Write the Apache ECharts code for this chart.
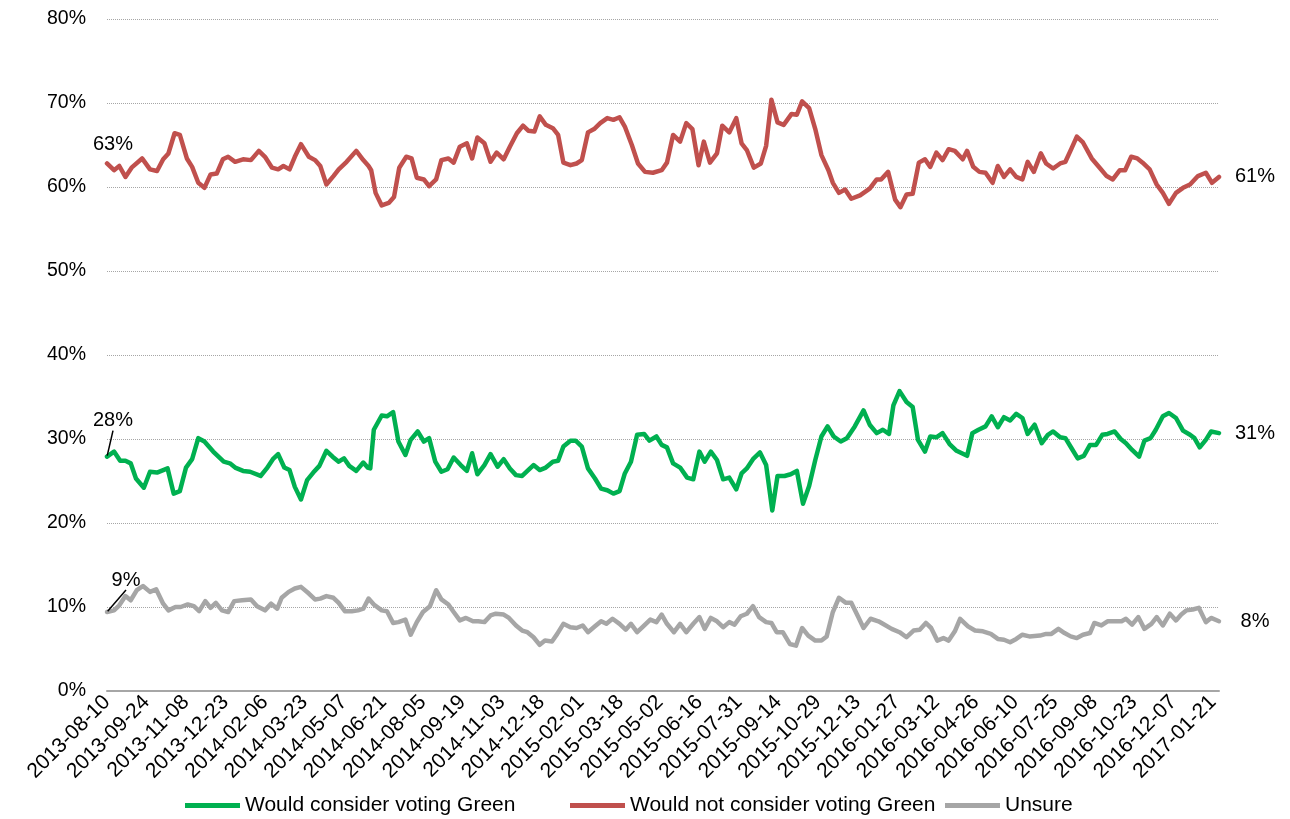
<!DOCTYPE html>
<html>
<head>
<meta charset="utf-8">
<script src="https://cdn.jsdelivr.net/npm/echarts@6/dist/echarts.min.js"></script>
<style>
html,body{margin:0;padding:0;background:#fff;}
#chart{width:1290px;height:819px;}
</style>
</head>
<body>
<div id="chart"></div>
<script>
// Start date of the x axis; positions below are days after this date
const START_DATE = '2013-08-10';
const END_DAY = 1267;
const LABEL_EVERY_DAYS = 45;
const yTicks = [0, 10, 20, 30, 40, 50, 60, 70, 80];

const seriesNames = ['Would consider voting Green', 'Would not consider voting Green', 'Unsure'];

// Would consider voting Green
const greenDay = [0,8,15,21,27,33,42,49,57,69,76,83,90,97,104,111,121,133,140,146,155,163,175,182,189,195,202,208,214,221,228,235,242,250,257,264,270,276,284,292,297,300,304,313,319,326,332,340,346,354,361,367,374,381,388,395,403,410,416,422,430,437,445,452,459,466,473,479,486,493,500,508,514,520,528,534,541,548,556,563,570,577,584,590,597,604,612,618,626,632,638,645,653,661,668,675,681,688,695,702,709,717,723,729,736,744,751,758,764,772,779,786,793,800,807,814,821,828,836,843,852,862,869,877,884,891,896,903,911,918,924,932,938,945,952,960,968,980,986,993,1001,1008,1015,1022,1029,1036,1043,1049,1057,1065,1072,1078,1086,1092,1099,1106,1113,1120,1127,1134,1140,1148,1155,1161,1168,1176,1182,1189,1195,1203,1210,1218,1226,1234,1239,1245,1252,1258,1267];
const greenVal = [27.9,28.5,27.4,27.4,27.1,25.3,24.2,26.1,26.0,26.5,23.5,23.8,26.6,27.6,30.1,29.7,28.5,27.3,27.1,26.6,26.2,26.1,25.6,26.5,27.6,28.2,26.6,26.3,24.3,22.8,25.1,26.0,26.8,28.6,27.9,27.3,27.7,26.8,26.2,27.2,26.6,26.5,31.1,32.8,32.7,33.2,29.7,28.1,29.9,30.9,29.7,30.1,27.3,26.1,26.4,27.8,26.9,26.2,28.3,25.8,26.9,28.2,26.7,27.6,26.5,25.7,25.6,26.2,26.9,26.3,26.6,27.3,27.4,29.1,29.8,29.8,29.1,26.5,25.3,24.1,23.9,23.5,23.8,25.9,27.3,30.5,30.6,29.8,30.3,29.3,29.0,27.1,26.6,25.4,25.2,28.5,27.3,28.5,27.5,25.2,25.4,24.0,25.9,26.5,27.6,28.4,26.9,21.5,25.6,25.6,25.8,26.2,22.3,24.4,27.5,30.3,31.5,30.3,29.7,30.1,31.5,33.4,31.7,30.7,31.1,30.6,34.0,35.7,34.4,33.8,29.9,28.5,30.3,30.2,30.7,29.4,28.6,28.0,30.7,31.1,31.5,32.7,31.4,32.6,32.2,33.0,32.5,30.6,31.7,29.5,30.5,30.9,30.2,30.1,28.9,27.7,28.0,29.3,29.3,30.5,30.6,30.9,30.0,29.5,28.7,27.9,29.8,30.1,31.1,32.7,33.1,32.5,31.0,30.5,30.1,29.0,29.9,30.9,30.7];

// Would not consider voting Green
const redDay = [0,8,14,21,28,40,49,57,64,70,77,83,91,97,104,111,118,125,132,138,146,155,164,173,180,188,195,201,208,214,221,230,237,243,250,258,264,273,284,292,298,301,306,313,321,327,333,341,347,353,361,367,375,381,389,395,402,410,416,422,430,437,444,452,459,467,474,480,487,493,500,508,514,520,528,535,541,548,555,562,570,577,584,590,598,605,613,622,632,638,645,653,660,667,674,680,687,695,701,709,717,723,729,737,745,751,757,764,771,780,786,792,800,807,814,822,827,834,841,848,858,869,877,882,890,898,904,911,918,925,932,938,945,952,959,966,975,980,987,994,1001,1009,1015,1022,1029,1036,1043,1049,1056,1064,1070,1078,1086,1092,1099,1105,1112,1122,1131,1139,1146,1154,1160,1167,1174,1180,1188,1196,1203,1210,1218,1226,1234,1243,1252,1259,1267];
const redVal = [62.8,62.0,62.5,61.2,62.3,63.4,62.1,61.9,63.3,64.0,66.4,66.2,63.4,62.4,60.5,59.9,61.5,61.6,63.3,63.6,63.0,63.3,63.2,64.3,63.6,62.3,62.1,62.5,62.1,63.6,65.1,63.6,63.2,62.5,60.3,61.3,62.1,63.0,64.3,63.2,62.5,62.0,59.3,57.8,58.1,58.8,62.3,63.6,63.4,61.1,60.9,60.1,60.9,63.2,63.4,62.9,64.8,65.2,63.4,65.9,65.2,63.0,64.1,63.3,64.8,66.4,67.3,66.7,66.6,68.4,67.4,67.0,66.2,62.9,62.6,62.8,63.2,66.5,66.9,67.6,68.2,68.0,68.3,67.2,65.0,62.8,61.8,61.7,62.0,62.9,66.2,65.4,67.6,66.9,62.6,65.4,62.9,64.0,67.3,66.5,68.2,65.2,64.4,62.3,62.8,64.9,70.4,67.7,67.4,68.7,68.6,70.2,69.4,66.9,63.8,62.0,60.5,59.3,59.7,58.6,59.0,59.8,60.9,60.9,61.8,58.5,57.6,59.1,59.2,62.9,63.3,62.4,64.1,63.2,64.5,64.3,63.3,64.3,62.4,61.8,61.7,60.5,62.5,61.2,62.1,61.2,60.9,63.0,61.8,64.0,62.8,62.2,62.8,63.0,64.6,66.0,65.3,63.4,62.3,61.3,60.9,62.0,62.0,63.6,63.4,62.9,62.1,60.3,59.3,58.0,59.3,59.9,60.3,61.3,61.7,60.5,61.2];

// Unsure
const grayDay = [0,8,14,21,27,34,41,49,56,64,70,78,84,92,99,105,112,118,124,131,138,145,154,164,171,180,187,194,199,207,214,221,230,237,243,250,258,264,271,279,286,292,298,304,313,319,326,332,340,346,353,360,368,375,381,389,395,402,409,417,423,430,437,443,452,458,466,473,479,486,493,499,507,513,520,528,535,542,548,556,563,569,576,584,591,597,604,611,619,626,632,638,646,653,660,668,675,681,688,695,702,709,715,722,729,736,743,751,757,763,770,778,785,792,799,807,814,820,827,834,842,848,856,862,870,879,884,894,903,911,919,926,933,939,946,953,959,966,972,981,989,998,1007,1015,1022,1029,1036,1043,1051,1063,1070,1076,1084,1091,1098,1105,1112,1120,1125,1133,1140,1148,1156,1161,1168,1175,1182,1190,1196,1203,1211,1218,1224,1230,1237,1244,1252,1258,1267];
const grayVal = [9.4,9.6,10.2,11.3,10.8,12.0,12.5,11.8,12.1,10.4,9.6,10.0,10.0,10.3,10.1,9.5,10.7,9.9,10.5,9.6,9.4,10.7,10.8,10.9,10.1,9.6,10.4,9.8,11.1,11.8,12.2,12.4,11.6,10.9,11.0,11.3,11.1,10.5,9.5,9.5,9.6,9.8,11.0,10.3,9.6,9.5,8.1,8.2,8.5,6.7,8.2,9.4,10.1,12.0,10.9,10.3,9.4,8.4,8.7,8.3,8.3,8.2,9.0,9.2,9.1,8.7,7.8,7.2,7.0,6.4,5.5,6.0,5.9,6.8,8.0,7.6,7.5,7.8,7.0,7.7,8.3,8.0,8.6,8.0,7.3,8.0,7.0,7.7,8.5,8.2,9.1,8.0,7.0,8.0,7.0,8.0,8.8,7.4,8.7,8.3,7.6,8.2,7.9,8.9,9.2,10.1,8.8,8.2,8.1,7.0,7.0,5.6,5.4,7.5,6.6,6.0,6.0,6.5,9.4,11.1,10.5,10.5,8.8,7.5,8.6,8.3,8.0,7.4,7.0,6.4,7.2,7.3,8.1,7.5,6.0,6.3,6.0,7.1,8.6,7.7,7.2,7.1,6.8,6.2,6.1,5.8,6.2,6.7,6.5,6.6,6.8,6.8,7.4,6.9,6.5,6.3,6.7,6.9,8.1,7.8,8.3,8.3,8.3,8.6,7.9,8.8,7.4,8.0,8.8,7.8,9.2,8.4,9.1,9.6,9.7,9.9,8.2,8.7,8.3];

const colors = ['#00b050', '#c0504d', '#a6a6a6'];
const FONT = 'Liberation Sans, Arial, sans-serif';
const FS = 20;

function dayToDate(d) {
  const p = START_DATE.split('-').map(Number);
  const t = new Date(Date.UTC(p[0], p[1] - 1, p[2]) + d * 86400000);
  const mm = String(t.getUTCMonth() + 1).padStart(2, '0');
  const dd = String(t.getUTCDate()).padStart(2, '0');
  return t.getUTCFullYear() + '-' + mm + '-' + dd;
}

function pairs(days, vals) {
  return days.map((d, i) => [d, vals[i]]);
}

function pct(v) { return Math.round(v) + '%'; }

// label-centre shifts (px) of the first-value labels; last-value labels sit to the right
const startLabelShift = [
  {dx: 6, dy: -36, line: true},
  {dx: 6, dy: -19, line: false},
  {dx: 19, dy: -32, line: true}
];
const END_LABEL_DX = 36;
// legend entries sit in equal-width slots (left edge of each slot, px)
const legendLeft = [185, 570, 945];

function buildLine(idx, days, vals) {
  return {
    name: seriesNames[idx],
    type: 'line',
    data: pairs(days, vals),
    symbol: 'none',
    showSymbol: false,
    lineStyle: {width: 4.5, color: colors[idx], join: 'round', cap: 'round'},
    itemStyle: {color: colors[idx]},
    emphasis: {disabled: true},
    z: idx === 0 ? 3 : 2
  };
}

function labelCfg() {
  return {
    show: true,
    position: 'inside',
    formatter: function (p) { return pct(p.value[1]); },
    fontSize: FS,
    color: '#000',
    opacity: 1,
    textBorderWidth: 0,
    fontFamily: FONT
  };
}

function buildEdgeLabels(idx, days, vals) {
  const s = startLabelShift[idx];
  const last = days.length - 1;
  return {
    name: seriesNames[idx] + ' labels',
    type: 'scatter',
    data: [
      {value: [days[0], vals[0]], labelLine: {show: s.line}},
      {value: [days[last], vals[last]], labelLine: {show: false}}
    ],
    symbol: 'circle',
    symbolSize: 2,
    itemStyle: {color: 'rgba(255,255,255,0)', opacity: 1},
    emphasis: {disabled: true},
    silent: true,
    label: labelCfg(),
    labelLine: {show: true, length2: 0, lineStyle: {color: '#000', width: 1.5, opacity: 1}},
    labelLayout: function (params) {
      if (params.dataIndex === 0) return {dx: s.dx, dy: s.dy, hideOverlap: false};
      return {dx: END_LABEL_DX, dy: 0, hideOverlap: false};
    },
    z: 5
  };
}

function buildLegend(idx) {
  return {
    top: 795,
    left: legendLeft[idx],
    padding: 0,
    itemWidth: 55,
    itemHeight: 5,
    itemGap: 10,
    icon: 'rect',
    selectedMode: false,
    textStyle: {fontSize: 21, color: '#000', fontFamily: FONT},
    data: [seriesNames[idx]]
  };
}

const chart = echarts.init(document.getElementById('chart'), null, {renderer: 'canvas'});
chart.setOption({
  animation: false,
  backgroundColor: '#fff',
  color: colors,
  grid: {left: 107, right: 71, top: 19, bottom: 128, containLabel: false},
  legend: [buildLegend(0), buildLegend(1), buildLegend(2)],
  xAxis: {
    type: 'value',
    min: 0,
    max: END_DAY,
    interval: LABEL_EVERY_DAYS,
    axisLine: {show: true, lineStyle: {color: '#a6a6a6', width: 2}},
    axisTick: {show: false},
    splitLine: {show: false},
    axisLabel: {
      rotate: 45,
      fontSize: 21,
      color: '#000',
      fontFamily: FONT,
      margin: 8,
      showMaxLabel: false,
      formatter: function (v) { return v % LABEL_EVERY_DAYS === 0 ? dayToDate(v) : ''; }
    }
  },
  yAxis: {
    type: 'value',
    min: yTicks[0],
    max: yTicks[yTicks.length - 1],
    interval: 10,
    axisLine: {show: false},
    axisTick: {show: false},
    splitLine: {show: true, lineStyle: {type: 'dotted', color: '#a6a6a6', width: 1}},
    axisLabel: {
      fontSize: 19.5,
      color: '#000',
      fontFamily: FONT,
      margin: 21,
      formatter: function (v) { return v + '%'; }
    }
  },
  series: [
    buildLine(0, greenDay, greenVal),
    buildLine(1, redDay, redVal),
    buildLine(2, grayDay, grayVal),
    buildEdgeLabels(0, greenDay, greenVal),
    buildEdgeLabels(1, redDay, redVal),
    buildEdgeLabels(2, grayDay, grayVal)
  ]
});
</script>
</body>
</html>
